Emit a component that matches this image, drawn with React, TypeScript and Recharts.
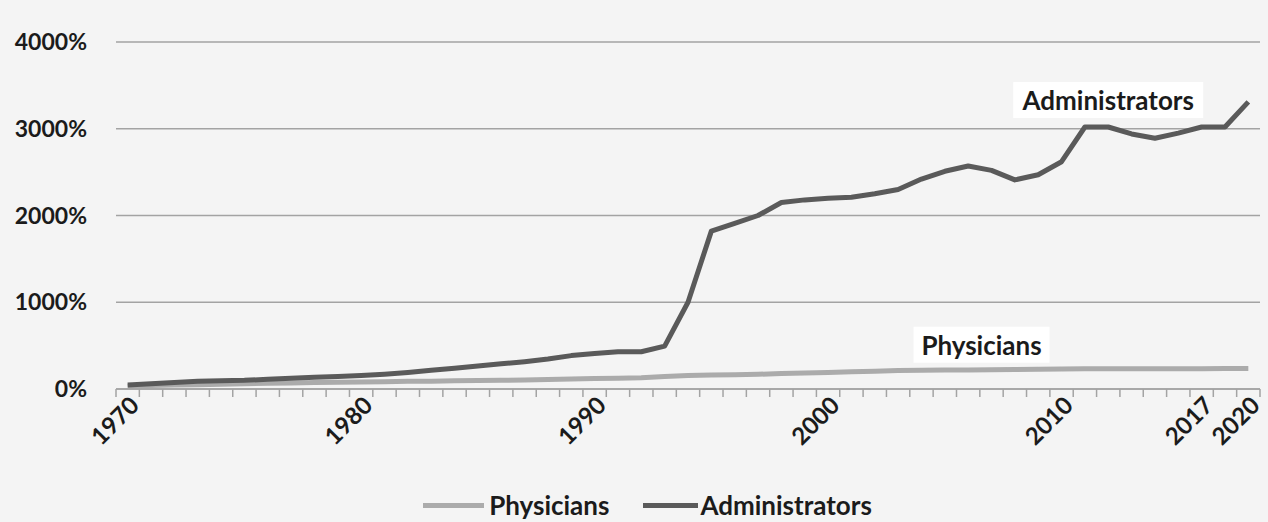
import React from 'react';
import { LineChart, Line, XAxis, YAxis, CartesianGrid, Legend } from 'recharts';

// category years (the source skips a couple of late years)
const years = [
  '1970', '1971', '1972', '1973', '1974', '1975', '1976', '1977', '1978', '1979',
  '1980', '1981', '1982', '1983', '1984', '1985', '1986', '1987', '1988', '1989',
  '1990', '1991', '1992', '1993', '1994', '1995', '1996', '1997', '1998', '1999',
  '2000', '2001', '2002', '2003', '2004', '2005', '2006', '2007', '2008', '2009',
  '2010', '2011', '2012', '2013', '2014', '2015', '2017', '2018', '2020',
];

const physicians = [
  30, 40, 45, 50, 55, 60, 65, 70, 75, 78,
  80, 85, 88, 90, 95, 98, 100, 105, 110, 115,
  120, 125, 130, 145, 155, 160, 165, 170, 178, 185,
  190, 198, 205, 212, 215, 218, 220, 222, 225, 228,
  230, 232, 232, 233, 233, 234, 234, 235, 235,
];

const administrators = [
  45, 60, 75, 88, 95, 100, 112, 125, 135, 145,
  155, 170, 190, 215, 240, 265, 290, 315, 345, 385,
  410, 430, 430, 495, 1000, 1820, 1910, 2000, 2150, 2180,
  2200, 2210, 2250, 2300, 2420, 2510, 2570, 2520, 2410, 2470,
  2620, 3020, 3020, 2940, 2890, 2950, 3020, 3020, 3310,
];

const yTicks = [0, 1000, 2000, 3000, 4000];
const labeledYears = ['1970', '1980', '1990', '2000', '2010', '2017', '2020'];

const data = years.map((year, i) => ({
  year,
  physicians: physicians[i],
  administrators: administrators[i],
}));

const CHART_W = 1268;
const CHART_H = 522;
const MARGIN = { top: 42, right: 8, bottom: 2, left: 0 };
const Y_AXIS_W = 116;
const PLOT_W = CHART_W - MARGIN.left - MARGIN.right - Y_AXIS_W;
const STEP = PLOT_W / years.length;

const FONT = "Lato, 'Open Sans', sans-serif";
const TEXT = '#1b1b1b';
const AXIS = '#a3a3a3';
const ADMIN_COLOR = '#5a5a5a';
const PHYS_COLOR = '#ababab';

// tick marks sit between categories, labels only on a few years
const YearTick = (props: any) => {
  const { x, y, payload, index } = props;
  const half = STEP / 2;
  const show = labeledYears.includes(String(payload.value));
  const ax = x + 13;
  const ay = y + 18;
  return (
    <g>
      {index === 0 && <line x1={x - half} x2={x - half} y1={y} y2={y + 8} stroke={AXIS} strokeWidth={1.5} />}
      <line x1={x + half} x2={x + half} y1={y} y2={y + 8} stroke={AXIS} strokeWidth={1.5} />
      {show && (
        <text
          x={ax}
          y={ay}
          textAnchor="end"
          transform={`rotate(-45, ${ax}, ${ay})`}
          fontSize={24}
          fontWeight={700}
          fill={TEXT}
          fontFamily={FONT}
        >
          {payload.value}
        </text>
      )}
    </g>
  );
};

const makeSeriesLabel = (text: string, atIndex: number, dx: number, dy: number, w: number) => (props: any) => {
  const { x, y, index } = props;
  if (index !== atIndex) return null;
  const cx = x + dx;
  const cy = y + dy;
  return (
    <g>
      <rect x={cx - w / 2 - 8} y={cy - 18} width={w + 16} height={36} fill="#ffffff" />
      <text x={cx} y={cy} textAnchor="middle" dominantBaseline="central" fontSize={26} fontWeight={700} fill={TEXT} fontFamily={FONT}>
        {text}
      </text>
    </g>
  );
};

const renderLegend = () => (
  <div style={{ display: 'flex', justifyContent: 'center', alignItems: 'center', paddingLeft: 35, fontFamily: FONT, height: 30 }}>
    <span style={{ display: 'inline-block', width: 61, height: 5, background: PHYS_COLOR, marginRight: 5 }} />
    <span style={{ fontSize: 26, fontWeight: 700, color: TEXT, marginRight: 34, lineHeight: '30px' }}>Physicians</span>
    <span style={{ display: 'inline-block', width: 55, height: 5, background: ADMIN_COLOR, marginRight: 2 }} />
    <span style={{ fontSize: 26, fontWeight: 700, color: TEXT, lineHeight: '30px' }}>Administrators</span>
  </div>
);

const App: React.FC = () => {
  return (
    <div style={{ position: 'absolute', left: 0, top: 0, width: CHART_W, height: CHART_H, background: '#f4f4f4', fontFamily: FONT }}>
      <LineChart width={CHART_W} height={CHART_H} data={data} margin={MARGIN}>
        <CartesianGrid vertical={false} stroke={AXIS} strokeWidth={1.5} />
        <XAxis
          dataKey="year"
          interval={0}
          padding={{ left: STEP / 2, right: STEP / 2 }}
          axisLine={{ stroke: AXIS, strokeWidth: 1.5 }}
          tickLine={false}
          tickSize={0}
          tickMargin={0}
          height={101}
          tick={<YearTick />}
        />
        <YAxis
          width={Y_AXIS_W}
          domain={[0, 4000]}
          ticks={yTicks}
          tickFormatter={(v: number) => `${v}%`}
          axisLine={false}
          tickLine={false}
          tickSize={0}
          tickMargin={29}
          tick={{ fontSize: 23, fontWeight: 700, fill: TEXT, fontFamily: FONT }}
        />
        <Legend verticalAlign="bottom" height={30} content={renderLegend} />
        <Line
          type="linear"
          dataKey="physicians"
          name="Physicians"
          stroke={PHYS_COLOR}
          strokeWidth={5}
          dot={false}
          strokeLinejoin="round"
          isAnimationActive={false}
          label={makeSeriesLabel('Physicians', 37, -10, -25, 120)}
        />
        <Line
          type="linear"
          dataKey="administrators"
          name="Administrators"
          stroke={ADMIN_COLOR}
          strokeWidth={5}
          dot={false}
          strokeLinejoin="round"
          isAnimationActive={false}
          label={makeSeriesLabel('Administrators', 42, 0, -27, 174)}
        />
      </LineChart>
    </div>
  );
};

export default App;
